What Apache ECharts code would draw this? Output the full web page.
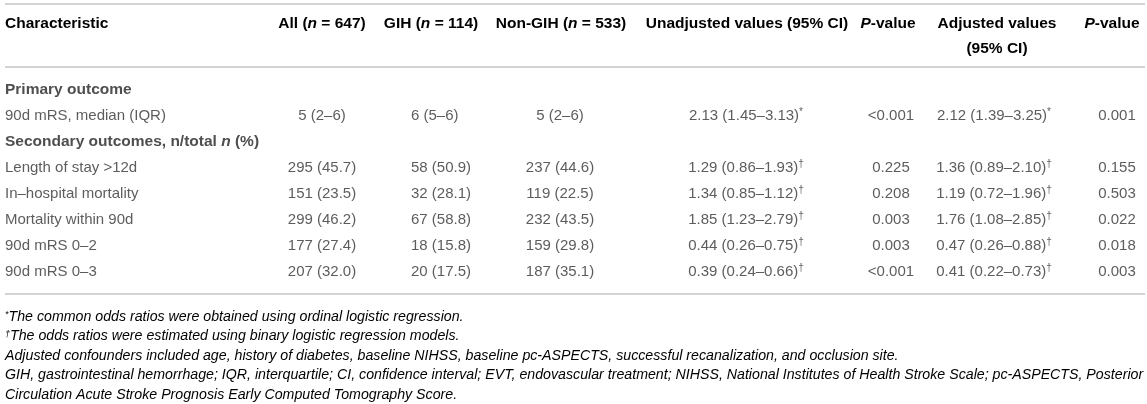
<!DOCTYPE html>
<html>
<head>
<meta charset="utf-8">
<script src="https://cdn.jsdelivr.net/npm/echarts@6/dist/echarts.min.js"></script>
<style>
html,body{margin:0;padding:0;background:#fff;}
#table_chart{width:1147px;height:404px;}
</style>
</head>
<body>
<div id="table_chart"></div>
<script>
// 表格数据
var rowLabels = ['Primary outcome', '90d mRS, median (IQR)', 'Secondary outcomes, n/total n (%)',
    'Length of stay >12d', 'In–hospital mortality', 'Mortality within 90d', '90d mRS 0–2', '90d mRS 0–3'];
var sectionRows = [0, 2];
var allVals    = ['', '5 (2–6)', '', '295 (45.7)', '151 (23.5)', '299 (46.2)', '177 (27.4)', '207 (32.0)'];
var gihVals    = ['', '6 (5–6)', '', '58 (50.9)', '32 (28.1)', '67 (58.8)', '18 (15.8)', '20 (17.5)'];
var nonGihVals = ['', '5 (2–6)', '', '237 (44.6)', '119 (22.5)', '232 (43.5)', '159 (29.8)', '187 (35.1)'];
var unadjOR    = ['', '2.13 (1.45–3.13)', '', '1.29 (0.86–1.93)', '1.34 (0.85–1.12)', '1.85 (1.23–2.79)', '0.44 (0.26–0.75)', '0.39 (0.24–0.66)'];
var unadjP     = ['', '<0.001', '', '0.225', '0.208', '0.003', '0.003', '<0.001'];
var adjOR      = ['', '2.12 (1.39–3.25)', '', '1.36 (0.89–2.10)', '1.19 (0.72–1.96)', '1.76 (1.08–2.85)', '0.47 (0.26–0.88)', '0.41 (0.22–0.73)'];
var adjP       = ['', '0.001', '', '0.155', '0.503', '0.022', '0.018', '0.003'];
var orMarks    = ['', '*', '', '†', '†', '†', '†', '†'];

var headTop    = ['Characteristic', 'All (n = 647)', 'GIH (n = 114)', 'Non-GIH (n = 533)',
    'Unadjusted values (95% CI)', 'P-value', 'Adjusted values', 'P-value'];
var headSecond = ['', '', '', '', '', '', '(95% CI)', ''];

var footnotes = [
    '*The common odds ratios were obtained using ordinal logistic regression.',
    '†The odds ratios were estimated using binary logistic regression models.',
    'Adjusted confounders included age, history of diabetes, baseline NIHSS, baseline pc-ASPECTS, successful recanalization, and occlusion site.',
    'GIH, gastrointestinal hemorrhage; IQR, interquartile; CI, confidence interval; EVT, endovascular treatment; NIHSS, National Institutes of Health Stroke Scale; pc-ASPECTS, Posterior',
    'Circulation Acute Stroke Prognosis Early Computed Tomography Score.'
];

// 版式
var FONT = '"Liberation Sans", Arial, Helvetica, sans-serif';
var TXT = '#333';
var colX     = [5, 322, 411, 560, 746, 891, 994, 1117];
var colAlign = ['left', 'center', 'left', 'center', 'center', 'center', 'center', 'center'];
var headX    = [5, 322, 431, 561, 747, 888, 997, 1112];
var ruleY    = [4, 67, 294];
var footY    = [317, 336.5, 356, 375.5, 395];

var rich = {
    b:   {fontFamily: FONT, fontSize: 15.5, fontWeight: 'bold', color: '#222'},
    bi:  {fontFamily: FONT, fontSize: 15.5, fontWeight: 'bold', fontStyle: 'italic', color: '#222'},
    r:   {fontFamily: FONT, fontSize: 15, color: TXT},
    sup: {fontFamily: FONT, fontSize: 10, color: TXT, verticalAlign: 'top', lineHeight: 10},
    it:  {fontFamily: FONT, fontSize: 14.2, fontStyle: 'italic', color: TXT},
    itsup: {fontFamily: FONT, fontSize: 9, fontStyle: 'italic', color: TXT, verticalAlign: 'top', lineHeight: 9}
};

function headRich(s){
    if(s == 'P-value'){
        return '{bi|P}{b|-value}';
    }
    return '{b|' + s.replace('(n', '(}{bi|n}{b|') + '}';
}

function rowRich(i){
    var s = rowLabels[i];
    if(sectionRows.indexOf(i) >= 0){
        return '{b|' + s.replace('total n', 'total }{bi|n}{b|') + '}';
    }
    return '{r|' + s + '}';
}

function footRich(s){
    var c = s.charAt(0);
    if(c == '*' || c == '†'){
        return '{itsup|' + c + '}{it|' + s.substring(1) + '}';
    }
    return '{it|' + s + '}';
}

// 每一列一组散点，文字由标签画出
var columns = [
    {name: 'label', fmt: function(i){ return rowRich(i); }, has: function(i){ return true; }},
    {name: 'all', fmt: function(i){ return '{r|' + allVals[i] + '}'; }, has: function(i){ return allVals[i] !== ''; }},
    {name: 'gih', fmt: function(i){ return '{r|' + gihVals[i] + '}'; }, has: function(i){ return gihVals[i] !== ''; }},
    {name: 'nongih', fmt: function(i){ return '{r|' + nonGihVals[i] + '}'; }, has: function(i){ return nonGihVals[i] !== ''; }},
    {name: 'unadj', fmt: function(i){ return '{r|' + unadjOR[i] + '}{sup|' + orMarks[i] + '}'; }, has: function(i){ return unadjOR[i] !== ''; }},
    {name: 'unadjp', fmt: function(i){ return '{r|' + unadjP[i] + '}'; }, has: function(i){ return unadjP[i] !== ''; }},
    {name: 'adj', fmt: function(i){ return '{r|' + adjOR[i] + '}{sup|' + orMarks[i] + '}'; }, has: function(i){ return adjOR[i] !== ''; }},
    {name: 'adjp', fmt: function(i){ return '{r|' + adjP[i] + '}'; }, has: function(i){ return adjP[i] !== ''; }}
];

var series = [];
for(var c=0;c<columns.length;c++){
    var data = [];
    for(var i=0;i<rowLabels.length;i++){
        if(columns[c].has(i)){
            data.push({value: [colX[c], rowLabels[i]], row: i});
        }
    }
    (function(col, align){
        series.push({
            name: col.name,
            type: 'scatter',
            symbolSize: 0,
            silent: true,
            itemStyle: {color: 'rgba(0,0,0,0)'},
            data: data,
            label: {
                show: true,
                position: 'inside',
                align: align,
                verticalAlign: 'middle',
                lineHeight: 18,
                rich: rich,
                formatter: function(p){ return col.fmt(p.data.row); }
            }
        });
    })(columns[c], colAlign[c]);
}

var graphics = [];
for(var k=0;k<ruleY.length;k++){
    graphics.push({
        type: 'line', silent: true,
        shape: {x1: 5, y1: ruleY[k], x2: 1145, y2: ruleY[k]},
        style: {stroke: '#c4c4c4', lineWidth: 1.5}
    });
}
for(var h=0;h<headTop.length;h++){
    graphics.push({
        type: 'text', silent: true, x: headX[h], y: 24,
        style: {text: headRich(headTop[h]), rich: rich, textAlign: h == 0 ? 'left' : 'center', textVerticalAlign: 'middle'}
    });
    if(headSecond[h]){
        graphics.push({
            type: 'text', silent: true, x: headX[h], y: 49,
            style: {text: headRich(headSecond[h]), rich: rich, textAlign: 'center', textVerticalAlign: 'middle'}
        });
    }
}
for(var f=0;f<footnotes.length;f++){
    graphics.push({
        type: 'text', silent: true, x: 5, y: footY[f],
        style: {text: footRich(footnotes[f]), rich: rich, textAlign: 'left', textVerticalAlign: 'middle'}
    });
}

var myTable = echarts.init(document.getElementById('table_chart'));
var option = {
    animation: false,
    backgroundColor: '#fff',
    grid: {left: 0, right: 0, top: 77, height: 208},
    xAxis: {type: 'value', min: 0, max: 1147, show: false},
    yAxis: {type: 'category', data: rowLabels, inverse: true, show: false},
    series: series,
    graphic: graphics
};
myTable.setOption(option);
</script>
</body>
</html>
